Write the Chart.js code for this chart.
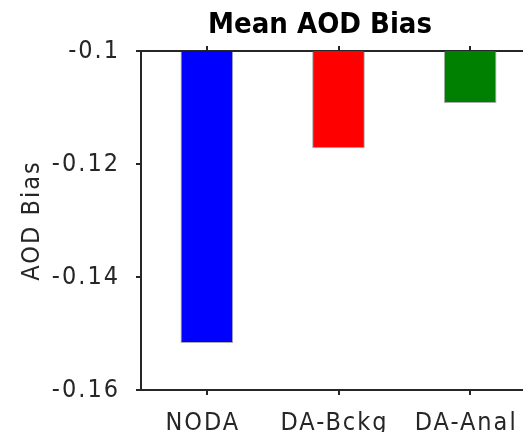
<!DOCTYPE html>
<html>
<head>
<meta charset="utf-8">
<script src="https://cdn.jsdelivr.net/npm/chart.js@4.4.1/dist/chart.umd.min.js"></script>
<style>
  html, body { margin:0; padding:0; background:#fff; overflow:hidden; width:523px; height:432px; }
  #wrap { position:relative; width:560px; height:432px; }
</style>
</head>
<body>
<div id="wrap"><canvas id="c" width="560" height="432"></canvas></div>
<script>
// ── data ─────────────────────────────────────────────────────────────
const CATEGORIES = ["NODA", "DA-Bckg", "DA-Anal"];
const AOD_BIAS   = [-0.1517, -0.1172, -0.1092];
const BAR_COLORS = ["#0000ff", "#ff0000", "#008000"];
const Y_TICKS    = [-0.16, -0.14, -0.12, -0.1];
const TITLE      = "Mean AOD Bias";
const Y_LABEL    = "AOD Bias";

const INK = "#262626";
const AXIS_FONT = { family: "'DejaVu Sans Condensed', 'DejaVu Sans'", size: 25 };

// slightly spaced lettering for the axis texts
const spacing = {
  id: "spacing",
  beforeLayout(chart) { chart.ctx.letterSpacing = "2px"; },
  beforeDraw(chart)   { chart.ctx.letterSpacing = "2px"; },
};

const plotTitle = {
  id: "plotTitle",
  afterDraw(chart) {
    const { ctx } = chart;
    ctx.save();
    ctx.letterSpacing = "0px";
    ctx.font = "bold 29px 'DejaVu Sans Condensed', 'DejaVu Sans'";
    ctx.fillStyle = "#000";
    ctx.textAlign = "center";
    ctx.textBaseline = "alphabetic";
    ctx.fillText(TITLE, 320, 33);
    ctx.restore();
  },
};

const xAxisCommon = {
  type: "category",
  offset: true,
  grid: { offset: false, drawOnChartArea: false, color: INK, lineWidth: 2, tickLength: 5 },
  border: { color: INK, width: 2 },
};

new Chart(document.getElementById("c"), {
  type: "bar",
  data: {
    labels: CATEGORIES,
    datasets: [{
      data: AOD_BIAS,
      backgroundColor: BAR_COLORS,
      borderColor: "rgba(70,70,70,0.45)",
      borderWidth: 1,
      borderSkipped: false,
      categoryPercentage: 1,
      barPercentage: 0.4,
    }],
  },
  options: {
    responsive: false,
    animation: false,
    layout: { padding: { top: 46, right: 24, bottom: 0, left: 0 } },
    plugins: { legend: { display: false }, tooltip: { enabled: false }, title: { display: false } },
    scales: {
      x: {
        ...xAxisCommon,
        position: "bottom",
        ticks: { color: INK, font: AXIS_FONT, padding: 13, labelOffset: -4, maxRotation: 0, autoSkip: false },
        afterFit: s => { s.height = 42; },
      },
      xTop: {
        ...xAxisCommon,
        position: "top",
        ticks: { display: false },
        afterFit: s => { s.height = 5; },
      },
      y: {
        min: -0.16, max: -0.1,
        afterBuildTicks: s => { s.ticks = Y_TICKS.map(v => ({ value: v })); },
        grid: { drawOnChartArea: false, color: INK, lineWidth: 2, tickLength: 5 },
        border: { color: INK, width: 2 },
        ticks: {
          color: INK, font: AXIS_FONT, padding: 16,
          callback: v => String(Number(v.toFixed(2))),
        },
        title: { display: true, text: Y_LABEL, color: INK, font: AXIS_FONT, padding: { top: 17, bottom: 0 } },
        afterFit: s => { s.width = 141; },
      },
    },
  },
  plugins: [spacing, plotTitle],
});
</script>
</body>
</html>
